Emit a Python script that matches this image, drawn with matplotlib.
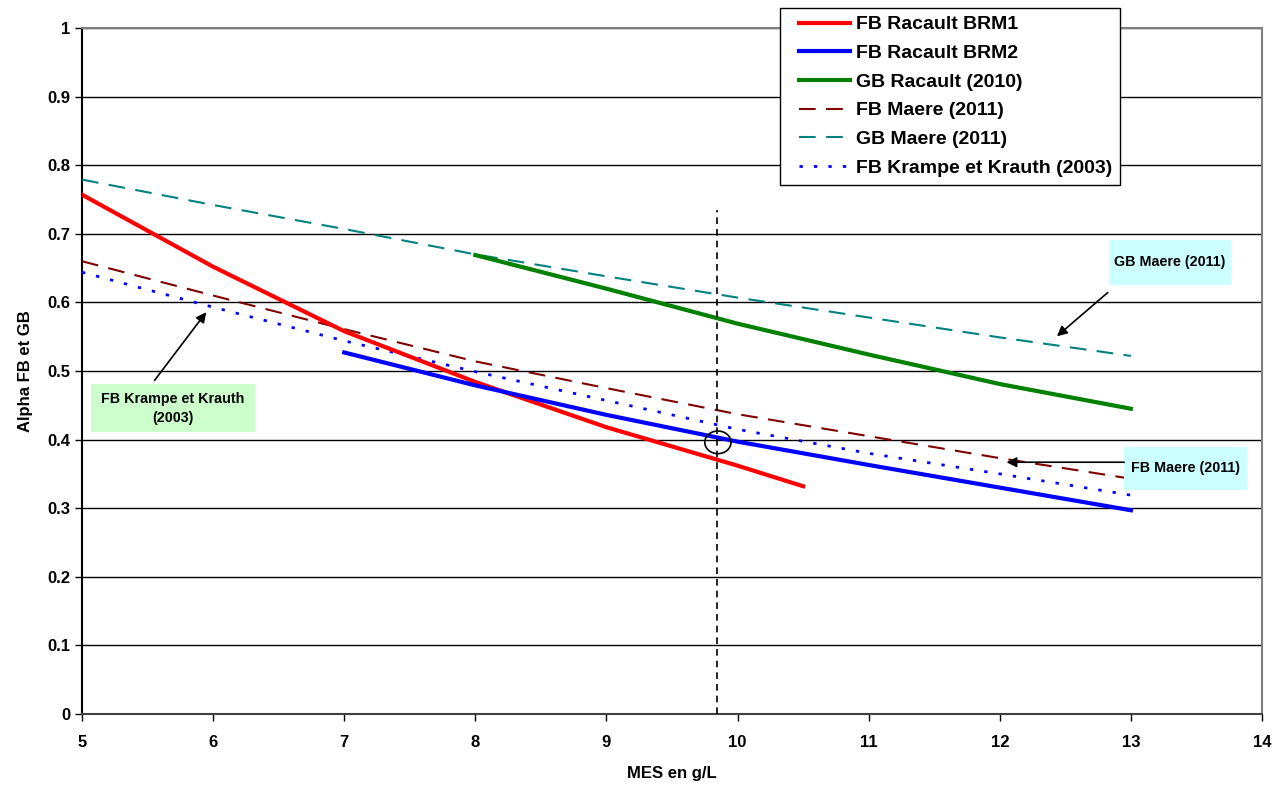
import matplotlib
matplotlib.use("Agg")
import matplotlib.pyplot as plt
from matplotlib.patches import Ellipse, Rectangle
from matplotlib.lines import Line2D
from matplotlib.legend_handler import HandlerLine2D
from matplotlib.ticker import FuncFormatter

plt.rcParams["font.family"] = ["Liberation Sans", "DejaVu Sans"]
plt.rcParams["font.weight"] = "bold"

# data
x_brm1 = [5, 6, 7, 8, 9, 10, 10.5]
y_brm1 = [0.757, 0.652, 0.558, 0.484, 0.418, 0.362, 0.332]

x_brm2 = [7, 8, 9, 10, 11, 12, 13]
y_brm2 = [0.527, 0.479, 0.436, 0.397, 0.363, 0.330, 0.297]

x_gb_racault = [8, 9, 10, 11, 12, 13]
y_gb_racault = [0.669, 0.620, 0.569, 0.524, 0.481, 0.445]

x_maere = [5, 6, 7, 8, 9, 10, 11, 12, 13]
y_fb_maere = [0.660, 0.610, 0.561, 0.514, 0.475, 0.437, 0.405, 0.373, 0.343]
y_gb_maere = [0.779, 0.742, 0.707, 0.670, 0.638, 0.607, 0.578, 0.549, 0.522]
y_krampe = [0.644, 0.593, 0.544, 0.499, 0.457, 0.415, 0.380, 0.350, 0.319]

x_vline = 9.84
x_circle, y_circle = 9.85, 0.396

fig = plt.figure(figsize=(12.86, 7.87), dpi=100)
ax = fig.add_axes([0.0638, 0.0928, 0.9175, 0.8716])

ax.plot(x_brm1, y_brm1, color="#ff0000", lw=3, label="FB Racault BRM1", zorder=5)
ax.plot(x_brm2, y_brm2, color="#0000ff", lw=3, label="FB Racault BRM2", zorder=5)
ax.plot(x_gb_racault, y_gb_racault, color="#008000", lw=3, label="GB Racault (2010)", zorder=5)
ax.plot(x_maere, y_fb_maere, color="#800000", lw=1.5, dashes=(8, 5), label="FB Maere (2011)", zorder=4)
ax.plot(x_maere, y_gb_maere, color="#008080", lw=1.5, dashes=(8, 5), label="GB Maere (2011)", zorder=4)
ax.plot(x_maere, y_krampe, color="#0000ff", lw=2, dashes=(1.2, 4), label="FB Krampe et Krauth (2003)", zorder=4)

ax.plot([x_vline, x_vline], [0, 0.735], color="black", lw=1.2, dashes=(4, 3), zorder=6)
ax.add_patch(Ellipse((x_circle, y_circle), 0.2, 0.033, fill=False, ec="black", lw=1.2, zorder=7))

ax.set_xlim(5, 14)
ax.set_ylim(0, 1)
ax.set_xticks(range(5, 15))
ax.set_yticks([i / 10 for i in range(11)])
ax.yaxis.set_major_formatter(FuncFormatter(lambda v, p: "%g" % round(v, 1)))
ax.grid(axis="y", color="black", lw=1)
ax.set_axisbelow(True)
for s in ax.spines.values():
    s.set_color("#808080")
    s.set_linewidth(1.5)
ax.spines["left"].set_color("black")
ax.spines["bottom"].set_color("#404040")
ax.tick_params(axis="both", direction="out", length=5, labelsize=12, width=1)
for lab in ax.get_xticklabels() + ax.get_yticklabels():
    lab.set_fontweight("bold")
ax.tick_params(axis="x", pad=10)
ax.set_xlabel("MES en g/L", fontsize=12, fontweight="bold", labelpad=12)
ax.set_ylabel("Alpha FB et GB", fontsize=12, fontweight="bold", labelpad=10)

leg = ax.legend(loc="upper left", bbox_to_anchor=(780 / 1286, 1 - 8 / 787),
                bbox_transform=fig.transFigure, fancybox=False, framealpha=1,
                edgecolor="black", handlelength=3.2,
                handler_map={Line2D: HandlerLine2D(xpad=0.6)},
                prop=dict(family="Liberation Sans", weight="bold", size=14),
                borderpad=0.4, labelspacing=0.57, handletextpad=0.3, borderaxespad=0)
leg.get_frame().set_linewidth(1)

arrow = dict(arrowstyle="-|>", color="black", lw=1.2, mutation_scale=15)

# annotation boxes (x0, x1, y0, y1 in data units)
ax.add_patch(Rectangle((12.835, 0.626), 0.93, 0.065, fc="#ccffff", ec="none", zorder=8))
ax.text(13.3, 0.659, "GB Maere (2011)", ha="center", va="center", fontsize=10.3,
        fontweight="bold", zorder=9)
ax.annotate("", xy=(12.42, 0.548), xytext=(12.84, 0.617), arrowprops=arrow, zorder=8)

ax.add_patch(Rectangle((12.95, 0.3265), 0.937, 0.0625, fc="#ccffff", ec="none", zorder=8))
ax.text(13.42, 0.358, "FB Maere (2011)", ha="center", va="center", fontsize=10.3,
        fontweight="bold", zorder=9)
ax.annotate("", xy=(12.03, 0.367), xytext=(12.97, 0.367), arrowprops=arrow, zorder=8)

ax.add_patch(Rectangle((5.069, 0.411), 1.25, 0.07, fc="#ccffcc", ec="none", zorder=8))
ax.text(5.694, 0.446, "FB Krampe et Krauth\n(2003)", ha="center", va="center", fontsize=10.3,
        fontweight="bold", linespacing=1.45, zorder=9)
ax.annotate("", xy=(5.96, 0.589), xytext=(5.54, 0.483), arrowprops=arrow, zorder=8)

fig.savefig("out.png", dpi=100)
